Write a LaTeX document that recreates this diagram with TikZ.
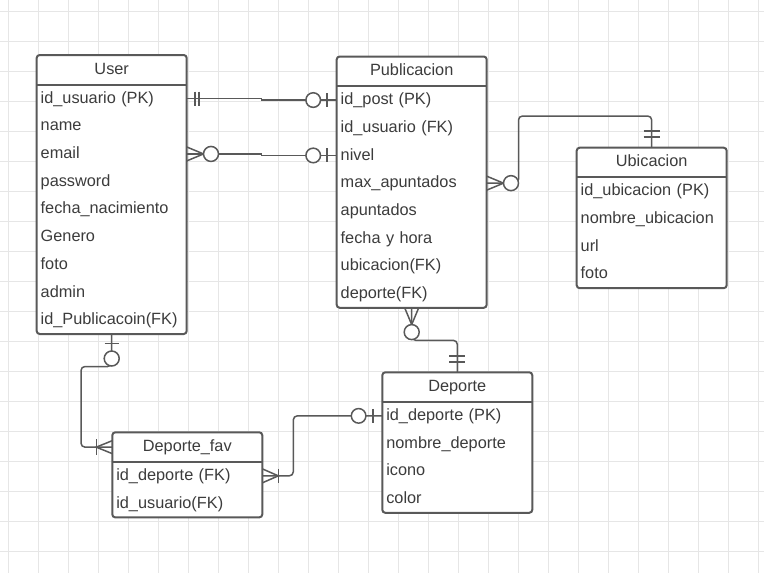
\documentclass[tikz,border=0pt]{standalone}
\usepackage{fontspec}
\setmainfont{Liberation Sans}
\usetikzlibrary{calc,fit}

\definecolor{gridc}{HTML}{E6E6E6}
\definecolor{edge}{HTML}{595959}
\definecolor{ink}{HTML}{3C3C3C}

\pgfdeclarelayer{grid}
\pgfdeclarelayer{fills}
\pgfsetlayers{grid,fills,main}

\tikzset{
  erfont/.style={font=\fontsize{16.3}{19}\selectfont},
  headcell/.style={erfont, anchor=north west, minimum width=150pt, minimum height=29.7pt,
    inner sep=0pt, outer sep=0pt, text height=12pt, text depth=3.3pt, text=ink},
  rowcell/.style={erfont, anchor=north west, text width=142pt, align=left, inner xsep=4pt,
    inner ysep=0pt, outer sep=0pt, minimum height=27.7pt, text height=12pt, text depth=2.9pt,
    text=ink},
  tbox/.style={draw=edge, line width=2pt, fill=white, rounded corners=3pt, inner sep=0pt,
    outer sep=0pt},
  rule/.style={draw=edge, line width=2pt},
  conn/.style={draw=edge, line width=1.5pt},
  knob/.style={draw=edge, line width=1.5pt, fill=white},
}

\begin{document}
\begin{tikzpicture}[x=1pt, y=-1pt]
\useasboundingbox (0,0) rectangle (764,573);

% background grid
\begin{pgfonlayer}{grid}
  \fill[white] (0,0) rectangle (764,573);
  \foreach \gx in {0,...,25}
    \draw[gridc, line width=1pt] ({8.3+30*\gx},0) -- ({8.3+30*\gx},573);
  \foreach \gy in {0,...,18}
    \draw[gridc, line width=1pt] (0,{11+30*\gy}) -- (764,{11+30*\gy});
\end{pgfonlayer}

% ---------- User ----------
\node[headcell] (ut) at (36.7,55) {User};
\node[rowcell] (u1) at (ut.south west) {id\_usuario (PK)};
\node[rowcell] (u2) at (u1.south west) {name};
\node[rowcell] (u3) at (u2.south west) {email};
\node[rowcell] (u4) at (u3.south west) {password};
\node[rowcell] (u5) at (u4.south west) {fecha\_nacimiento};
\node[rowcell] (u6) at (u5.south west) {Genero};
\node[rowcell] (u7) at (u6.south west) {foto};
\node[rowcell] (u8) at (u7.south west) {admin};
\node[rowcell] (u9) at (u8.south west) {id\_Publicacoin(FK)};
\begin{pgfonlayer}{fills}
  \node[tbox, fit=(ut)(u9)] (user) {};
\end{pgfonlayer}
\draw[rule] (ut.south west) -- (ut.south east);

% ---------- Publicacion ----------
\node[headcell] (pt) at (336.7,56.5) {Publicacion};
\node[rowcell] (p1) at (pt.south west) {id\_post (PK)};
\node[rowcell] (p2) at (p1.south west) {id\_usuario (FK)};
\node[rowcell] (p3) at (p2.south west) {nivel};
\node[rowcell] (p4) at (p3.south west) {max\_apuntados};
\node[rowcell] (p5) at (p4.south west) {apuntados};
\node[rowcell] (p6) at (p5.south west) {fecha y hora};
\node[rowcell] (p7) at (p6.south west) {ubicacion(FK)};
\node[rowcell] (p8) at (p7.south west) {deporte(FK)};
\begin{pgfonlayer}{fills}
  \node[tbox, fit=(pt)(p8)] (pub) {};
\end{pgfonlayer}
\draw[rule] (pt.south west) -- (pt.south east);

% ---------- Ubicacion ----------
\node[headcell] (bt) at (576.7,147.7) {Ubicacion};
\node[rowcell] (b1) at (bt.south west) {id\_ubicacion (PK)};
\node[rowcell] (b2) at (b1.south west) {nombre\_ubicacion};
\node[rowcell] (b3) at (b2.south west) {url};
\node[rowcell] (b4) at (b3.south west) {foto};
\begin{pgfonlayer}{fills}
  \node[tbox, fit=(bt)(b4)] (ubic) {};
\end{pgfonlayer}
\draw[rule] (bt.south west) -- (bt.south east);

% ---------- Deporte ----------
\node[headcell] (dt) at (382.3,372.3) {Deporte};
\node[rowcell] (d1) at (dt.south west) {id\_deporte (PK)};
\node[rowcell] (d2) at (d1.south west) {nombre\_deporte};
\node[rowcell] (d3) at (d2.south west) {icono};
\node[rowcell] (d4) at (d3.south west) {color};
\begin{pgfonlayer}{fills}
  \node[tbox, fit=(dt)(d4)] (dep) {};
\end{pgfonlayer}
\draw[rule] (dt.south west) -- (dt.south east);

% ---------- Deporte_fav ----------
\node[headcell] (ft) at (112.3,432.3) {Deporte\_fav};
\node[rowcell] (f1) at (ft.south west) {id\_deporte (FK)};
\node[rowcell] (f2) at (f1.south west) {id\_usuario(FK)};
\begin{pgfonlayer}{fills}
  \node[tbox, fit=(ft)(f2)] (fav) {};
\end{pgfonlayer}
\draw[rule] (ft.south west) -- (ft.south east);

% ---------- relationships ----------
% User.id_usuario (one and only one) -- Publicacion.id_post (zero or one)
\draw[conn] (u1.east) -| ($(u1.east)!.5!(p1.west)$) |- (p1.west);
\draw[conn] ($(u1.east)+(8.3,-7)$) -- ++(0,14);
\draw[conn] ($(u1.east)+(12.3,-7)$) -- ++(0,14);
\draw[knob] ($(p1.west)+(-23.5,0)$) circle[radius=7.3pt];
\draw[conn] ($(p1.west)+(-9.5,-7)$) -- ++(0,14);

% User.email (zero or many) -- Publicacion.nivel (zero or one)
\draw[conn] (u3.east) -| ($(u3.east)!.5!(p3.west)$) |- (p3.west);
\draw[conn] ($(u3.east)+(0,-7)$) -- ($(u3.east)+(16.8,0)$) -- ($(u3.east)+(0,7)$);
\draw[knob] ($(u3.east)+(24.3,0)$) circle[radius=7.5pt];
\draw[knob] ($(p3.west)+(-23.5,0)$) circle[radius=7.3pt];
\draw[conn] ($(p3.west)+(-9.5,-7)$) -- ++(0,14);

% Publicacion.max_apuntados (zero or many) -- Ubicacion (one and only one)
\draw[conn, rounded corners=4pt] (p4.east) -- ++(31.8,0) |- ($(ubic.north)+(0,-31.7)$) -- (ubic.north);
\draw[conn] ($(p4.east)+(0,-7)$) -- ($(p4.east)+(16.8,0)$) -- ($(p4.east)+(0,7)$);
\draw[knob] ($(p4.east)+(24.3,0)$) circle[radius=7.5pt];
\draw[conn] ($(ubic.north)+(-8,-16.5)$) -- ++(16,0);
\draw[conn] ($(ubic.north)+(-8,-10.5)$) -- ++(16,0);

% Publicacion (zero or many) -- Deporte (one and only one)
\draw[conn, rounded corners=4pt] (pub.south) |- ($(dep.north)+(0,-32)$) -- (dep.north);
\draw[conn] ($(pub.south)+(-7,0)$) -- ($(pub.south)+(0,16.8)$) -- ($(pub.south)+(7,0)$);
\draw[knob] ($(pub.south)+(0,24.3)$) circle[radius=7.5pt];
\draw[conn] ($(dep.north)+(-8,-16.5)$) -- ++(16,0);
\draw[conn] ($(dep.north)+(-8,-10.5)$) -- ++(16,0);

% Deporte.id_deporte (zero or one) -- Deporte_fav.id_deporte (one or many)
\draw[conn, rounded corners=4pt] (d1.west) -| ($(f1.east)+(31,0)$) -- (f1.east);
\draw[knob] ($(d1.west)+(-23.7,0)$) circle[radius=7.3pt];
\draw[conn] ($(d1.west)+(-9.5,-7)$) -- ++(0,14);
\draw[conn] ($(f1.east)+(0,-7)$) -- ($(f1.east)+(16,0)$) -- ($(f1.east)+(0,7)$);
\draw[conn] ($(f1.east)+(16,-7)$) -- ++(0,14);

% User (zero or one) -- Deporte_fav (one or many)
\draw[conn, rounded corners=4pt] (user.south) -- ++(0,32.5) -| ($(ft.west)+(-31.3,0)$) -- (ft.west);
\draw[conn] ($(user.south)+(-7,9.3)$) -- ++(14,0);
\draw[knob] ($(user.south)+(0,24.5)$) circle[radius=7.5pt];
\draw[conn] ($(ft.west)+(0,-6.5)$) -- ($(ft.west)+(-16,0)$) -- ($(ft.west)+(0,6.5)$);
\draw[conn] ($(ft.west)+(-16,-8)$) -- ++(0,16);

\end{tikzpicture}
\end{document}
